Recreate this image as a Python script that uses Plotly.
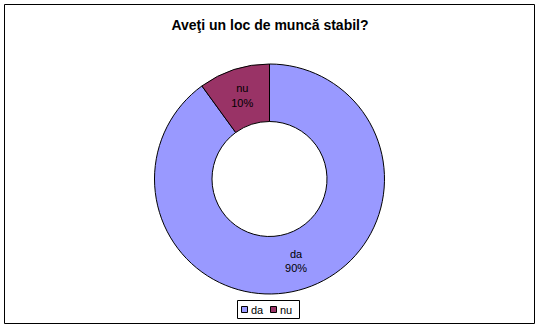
import plotly.graph_objects as go

labels = ["da", "nu"]
values = [90, 10]
colors = ["#9999FF", "#993366"]
title_text = "Aveţi un loc de muncă stabil?"

W, H = 540, 328
cx, cy, r = 269.5, 179, 115
FONT = "Liberation Sans, Arial"

def px(x):
    return x / W

def py(y):
    return 1 - y / H

fig = go.Figure(go.Pie(
    labels=labels, values=values, hole=0.5, sort=False, direction="clockwise", rotation=0,
    marker=dict(colors=colors, line=dict(color="black", width=1)),
    texttemplate="%{label}<br>%{percent:.0%}", textposition="inside", insidetextorientation="horizontal",
    textfont=dict(family=FONT, size=11, color="black"),
    domain=dict(x=[px(cx - r), px(cx + r)], y=[py(cy + r), py(cy - r)]),
    hoverinfo="skip", showlegend=False,
))

shapes = [
    dict(type="rect", xref="paper", yref="paper", x0=px(4.5), x1=px(534.5),
         y0=py(323.5), y1=py(4.5), line=dict(color="black", width=1)),
    dict(type="rect", xref="paper", yref="paper", x0=px(237.5), x1=px(299.5),
         y0=py(318.5), y1=py(300.5), line=dict(color="black", width=1), fillcolor="white"),
]
annotations = []
legend_x = [241, 270]
for i, lab in enumerate(labels):
    x0 = legend_x[i]
    shapes.append(dict(type="rect", xref="paper", yref="paper", x0=px(x0 + 0.5), x1=px(x0 + 6.5),
                       y0=py(312.5), y1=py(306.5), line=dict(color="black", width=1),
                       fillcolor=colors[i]))
    annotations.append(dict(text=lab, xref="paper", yref="paper", x=px(x0 + 8), y=py(309.5),
                            xanchor="left", yanchor="middle", showarrow=False,
                            font=dict(family=FONT, size=11, color="black")))

fig.update_layout(
    width=W, height=H, margin=dict(l=0, r=0, t=0, b=0),
    paper_bgcolor="white", plot_bgcolor="white",
    title=dict(text="<b>" + title_text + "</b>", x=0.5, xanchor="center", y=py(25), yanchor="middle",
               font=dict(family=FONT, size=14, color="black")),
    showlegend=False,
    shapes=shapes, annotations=annotations,
)

fig.write_html("out.html")
